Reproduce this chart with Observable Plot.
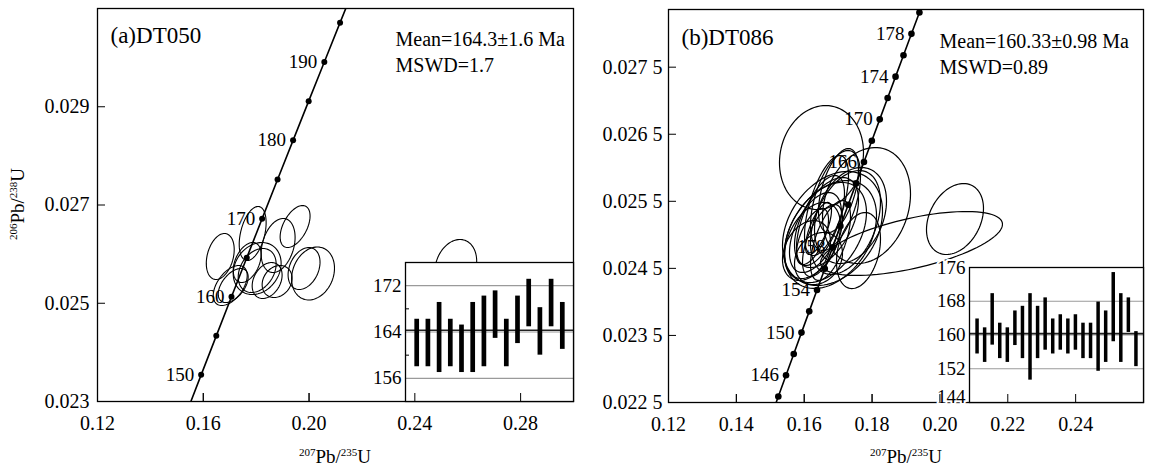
<!DOCTYPE html>
<html>
<head>
<meta charset="utf-8">
<script src="https://cdn.jsdelivr.net/npm/d3@7"></script>
<script src="https://cdn.jsdelivr.net/npm/@observablehq/plot@0.6"></script>
<style>
  body { margin: 0; background: white; }
  #wrap { position: relative; width: 1155px; height: 469px; font-family: "Liberation Serif", serif; color: black; }
  .layer { position: absolute; top: 0; }
  .layer svg, .layer svg text { font-family: "Liberation Serif", serif !important; }
  .title { position: absolute; font-family: "Liberation Serif", serif; font-size: 19px; white-space: nowrap; line-height: 1; }
  .title sup { font-size: 11px; vertical-align: 7px; line-height: 0; }
</style>
</head>
<body>
<div id="wrap"></div>
<script>
// ---------- data ----------
// Panel (a) DT050
const titleA = "(a)DT050";
const statA = "Mean=164.3±1.6 Ma\nMSWD=1.7";
const xTicksA = [0.12, 0.16, 0.20, 0.24, 0.28];
const yTicksA = [0.023, 0.025, 0.027, 0.029];
// concordia nodes (Ma) with 207Pb/235U and 206Pb/238U
const concA_age = [145, 150, 155, 160, 165, 170, 175, 180, 185, 190, 195, 200];
const concA_x = [0.153503, 0.159197, 0.164919, 0.170670, 0.176448, 0.182256, 0.188090, 0.193957, 0.199851, 0.205774, 0.211725, 0.217707];
const concA_y = [0.022748, 0.023542, 0.024336, 0.025131, 0.025926, 0.026722, 0.027519, 0.028316, 0.029114, 0.029912, 0.030712, 0.031511];
const concA_labels = [150, 160, 170, 180, 190];
// error ellipses: centre, half-extent in x and y, correlation
const ellA_x = [0.16642, 0.17868, 0.19472, 0.18830, 0.18038, 0.18038, 0.17019, 0.17132, 0.18415, 0.18792, 0.20151, 0.19811, 0.25547, 0.17660];
const ellA_y = [0.025952, 0.026420, 0.026562, 0.026176, 0.025707, 0.025667, 0.025361, 0.025361, 0.025463, 0.025443, 0.025606, 0.025707, 0.025748, 0.025830];
const ellA_sx = [0.00528, 0.00509, 0.00566, 0.00642, 0.00906, 0.00717, 0.00642, 0.00566, 0.00566, 0.00566, 0.00811, 0.00604, 0.00792, 0.00528];
const ellA_sy = [0.000468, 0.000550, 0.000427, 0.000550, 0.000529, 0.000448, 0.000407, 0.000346, 0.000366, 0.000326, 0.000539, 0.000427, 0.000550, 0.000407];
const ellA_rho = [0.3, 0.4, 0.5, 0.3, 0.2, 0.3, 0.5, 0.5, 0.3, 0.2, 0.2, 0.3, 0.2, 0.4];
// inset weighted mean ages
const insetA_ticks = [172, 164, 156];
const insetA_minor = [168, 160];
const meanA = 164.3;
const barsA_lo = [158, 158, 157, 158, 157, 157, 158, 162.9, 158, 162, 164.9, 160, 164.9, 161];
const barsA_hi = [166.2, 166.2, 169.1, 166.2, 165.2, 169.1, 170.2, 171.1, 166.2, 170.2, 173.1, 168.2, 173.1, 169.1];

// Panel (b) DT086
const titleB = "(b)DT086";
const statB = "Mean=160.33±0.98 Ma\nMSWD=0.89";
const xTicksB = [0.12, 0.14, 0.16, 0.18, 0.20, 0.22, 0.24];
const yTicksB = [0.0225, 0.0235, 0.0245, 0.0255, 0.0265, 0.0275];
const concB_age = [142, 144, 146, 148, 150, 152, 154, 156, 158, 160, 162, 164, 166, 168, 170, 172, 174, 176, 178, 180, 182];
const concB_x = [0.150100, 0.152367, 0.154639, 0.156916, 0.159197, 0.161482, 0.163773, 0.166067, 0.168366, 0.170670, 0.172978, 0.175291, 0.177608, 0.179930, 0.182256, 0.184587, 0.186923, 0.189263, 0.191608, 0.193957, 0.196311];
const concB_y = [0.022272, 0.022589, 0.022907, 0.023224, 0.023542, 0.023859, 0.024177, 0.024495, 0.024813, 0.025131, 0.025449, 0.025767, 0.026085, 0.026404, 0.026722, 0.027041, 0.027359, 0.027678, 0.027997, 0.028316, 0.028635];
const concB_labels = [146, 150, 154, 158, 166, 170, 174, 178];
const ellB_x = [0.16509, 0.17836, 0.16834, 0.16775, 0.16627, 0.16922, 0.16657, 0.16480, 0.16332, 0.16539, 0.16244, 0.17600, 0.16775, 0.16421, 0.16244, 0.16067, 0.17216, 0.16657, 0.16421, 0.19162, 0.20444, 0.17010, 0.17364];
const ellB_y = [0.026153, 0.025437, 0.025095, 0.025005, 0.025035, 0.025512, 0.025437, 0.025214, 0.025035, 0.024916, 0.024916, 0.024766, 0.024916, 0.025095, 0.024975, 0.024766, 0.025184, 0.025184, 0.024647, 0.024871, 0.025236, 0.025661, 0.025288];
const ellB_sx = [0.01238, 0.01297, 0.01474, 0.01356, 0.01208, 0.00737, 0.00648, 0.00707, 0.00766, 0.00589, 0.00825, 0.00648, 0.00589, 0.00383, 0.00472, 0.00707, 0.01032, 0.00943, 0.00707, 0.02682, 0.00840, 0.00589, 0.01061];
const ellB_sy = [0.000775, 0.000865, 0.000850, 0.000805, 0.000746, 0.000746, 0.000746, 0.000671, 0.000596, 0.000537, 0.000567, 0.000567, 0.000596, 0.000388, 0.000418, 0.000447, 0.000775, 0.000671, 0.000388, 0.000477, 0.000529, 0.000626, 0.000716];
const ellB_rho = [0.1, 0.2, 0.3, 0.35, 0.4, 0.5, 0.6, 0.6, 0.5, 0.6, 0.4, 0.3, 0.6, 0.7, 0.6, 0.3, 0.4, 0.5, 0.2, 0.6, 0.3, 0.5, 0.3];
const insetB_ticks = [176, 168, 160, 152, 144];
const insetB_grid = [168, 160, 152];
const meanB = 160.33;
const barsB_lo = [155.5, 153.5, 157.6, 154.4, 153.5, 157.5, 154.4, 149.3, 154.4, 156.4, 155.5, 156.4, 155.5, 156.4, 154.4, 154.4, 151.4, 153.5, 158.4, 153.5, 160.6, 152.5];
const barsB_hi = [163.8, 161.7, 169.8, 162.8, 161.7, 165.7, 166.8, 169.8, 166.8, 168.8, 163.8, 164.8, 163.8, 164.8, 162.8, 162.8, 167.8, 165.7, 174.8, 169.8, 168.8, 160.8];

const xTitle = "<sup>207</sup>Pb/<sup>235</sup>U";
const yTitle = "<sup>206</sup>Pb/<sup>238</sup>U";

// ---------- helpers ----------
const FONT = "Liberation Serif";
function ellipsePoints(xs, ys, sxs, sys, rhos) {
  const pts = [];
  xs.forEach((cx, i) => {
    const r = rhos[i], q = Math.sqrt(1 - r * r);
    for (let k = 0; k <= 90; k++) {
      const t = k * 2 * Math.PI / 90;
      pts.push({id: i, x: cx + sxs[i] * Math.cos(t), y: ys[i] + sys[i] * (r * Math.cos(t) + q * Math.sin(t))});
    }
  });
  return pts;
}
function concTable(ages, xs, ys) { return ages.map((a, i) => ({age: a, x: xs[i], y: ys[i]})); }
function barsTable(lo, hi) { return lo.map((l, i) => ({i: i + 1, lo: l, hi: hi[i]})); }
function place(svg, left) {
  const d = document.createElement("div");
  d.className = "layer";
  d.style.left = left + "px";
  d.appendChild(svg);
  document.getElementById("wrap").appendChild(d);
}
const STYLE = "background: transparent; font-family: 'Liberation Serif', serif; font-size: 20px; overflow: visible; color: black;";

function mainPanel(cfg) {
  const conc = concTable(cfg.age, cfg.cx, cfg.cy);
  const labels = conc.filter(d => cfg.labels.includes(d.age));
  const ell = ellipsePoints(cfg.ex, cfg.ey, cfg.esx, cfg.esy, cfg.erho);
  return Plot.plot({
    width: cfg.width, height: 469,
    marginLeft: cfg.ml, marginRight: cfg.mr, marginTop: cfg.mt, marginBottom: cfg.mb,
    x: {domain: cfg.xdom, label: null},
    y: {domain: cfg.ydom, label: null},
    style: STYLE,
    marks: [
      Plot.axisX({ticks: cfg.xticks, tickSize: -8, tickPadding: 22, tickFormat: d => d.toFixed(2), fontSize: 20, fontFamily: FONT}),
      Plot.axisY({ticks: cfg.yticks, tickSize: -8, tickPadding: cfg.ypad, tickFormat: cfg.yfmt, fontSize: 20, fontFamily: FONT}),
      Plot.text(labels, {x: "x", y: "y", text: d => String(d.age), textAnchor: "end", lineAnchor: "middle", dx: -7, fontSize: 19, fontFamily: FONT}),
      Plot.line(ell, {x: "x", y: "y", z: "id", stroke: "black", strokeWidth: cfg.ew, clip: true}),
      Plot.line(conc, {x: "x", y: "y", stroke: "black", strokeWidth: 1.6, clip: true}),
      Plot.dot(conc, {x: "x", y: "y", r: cfg.dotr, fill: "black", stroke: "none", clip: true}),
      Plot.text([cfg.title], {text: d => d, frameAnchor: "top-left", textAnchor: "start", lineAnchor: "top", dx: 13, dy: cfg.tdy, fontSize: 23, fontFamily: FONT}),
      Plot.text([cfg.stat], {text: d => d, frameAnchor: "top-left", textAnchor: "start", lineAnchor: "top", dx: cfg.sdx, dy: cfg.sdy, fontSize: 20, lineHeight: 1.3, fontFamily: FONT}),
      Plot.frame({stroke: "black", strokeWidth: 1.3})
    ]
  });
}

function insetPanel(cfg) {
  const bars = barsTable(cfg.lo, cfg.hi);
  const marks = [
    Plot.frame({fill: "white", stroke: "none"}),
    Plot.ruleY(cfg.grid, {stroke: "#9a9a9a", strokeWidth: 1.2}),
    Plot.ruleY([cfg.mean], {stroke: "#222", strokeWidth: 1.6}),
    Plot.ruleX(bars, {x: "i", y1: "lo", y2: "hi", stroke: "black", strokeWidth: cfg.bw}),
    Plot.text(cfg.ticks.filter(t => !cfg.shiftUp.includes(t)), {frameAnchor: "left", y: d => d, text: d => String(d), textAnchor: "end", lineAnchor: "middle", dx: -4, fill: "black", stroke: "white", strokeWidth: 4, fontSize: 19, fontFamily: FONT}),
    Plot.text(cfg.shiftUp, {frameAnchor: "left", y: d => d, text: d => String(d), textAnchor: "end", lineAnchor: "bottom", dx: -4, dy: 0, fill: "black", stroke: "white", strokeWidth: 4, fontSize: 19, fontFamily: FONT}),
    Plot.frame({stroke: "black", strokeWidth: 1.3})
  ];
  if (cfg.minor.length) marks.splice(4, 0, Plot.axisY({ticks: cfg.minor, tickSize: -4, tickFormat: () => ""}));
  return Plot.plot({
    width: cfg.width, height: 469,
    marginLeft: cfg.ml, marginRight: cfg.mr, marginTop: cfg.mt, marginBottom: cfg.mb,
    x: {domain: [0, cfg.lo.length + 1], axis: null},
    y: {domain: cfg.ydom, axis: null},
    style: STYLE,
    marks
  });
}

function tickOverlay(cfg) {
  return Plot.plot({
    width: cfg.width, height: 469,
    marginLeft: cfg.ml, marginRight: cfg.mr, marginTop: cfg.mt, marginBottom: cfg.mb,
    x: {domain: cfg.xdom, label: null},
    y: {domain: cfg.ydom, axis: null},
    style: STYLE,
    marks: [Plot.axisX({ticks: cfg.xticks, tickSize: -8, tickFormat: () => ""})]
  });
}

const fmtB = d => { const s = d.toFixed(4); return s.slice(0, -1) + " " + s.slice(-1); };

const cfgA = {
  width: 580, ml: 97, mr: 7, mt: 8, mb: 68,
  xdom: [0.12, 0.30], ydom: [0.023, 0.031],
  xticks: xTicksA, yticks: yTicksA, ypad: 16, yfmt: d => d.toFixed(3),
  age: concA_age, cx: concA_x, cy: concA_y, labels: concA_labels,
  ex: ellA_x, ey: ellA_y, esx: ellA_sx, esy: ellA_sy, erho: ellA_rho, ew: 1.1, dotr: 3,
  title: titleA, tdy: 18, stat: statA, sdx: 298, sdy: 19
};
const cfgB = {
  width: 575, ml: 88, mr: 12, mt: 9, mb: 67,
  xdom: [0.12, 0.26], ydom: [0.0225, 0.02836],
  xticks: xTicksB, yticks: yTicksB, ypad: 14, yfmt: fmtB,
  age: concB_age, cx: concB_x, cy: concB_y, labels: concB_labels,
  ex: ellB_x, ey: ellB_y, esx: ellB_sx, esy: ellB_sy, erho: ellB_rho, ew: 1.2, dotr: 3.3,
  title: titleB, tdy: 19.5, stat: statB, sdx: 271, sdy: 20.5
};

place(mainPanel(cfgA), 0);
place(insetPanel({width: 580, ml: 405, mr: 7, mt: 262, mb: 68, ydom: [152, 176],
  lo: barsA_lo, hi: barsA_hi, grid: insetA_ticks, mean: meanA, ticks: insetA_ticks, minor: insetA_minor, shiftUp: [], bw: 4.7}), 0);
place(tickOverlay(cfgA), 0);

place(mainPanel(cfgB), 580);
place(insetPanel({width: 575, ml: 389, mr: 12, mt: 267, mb: 67, ydom: [144, 176],
  lo: barsB_lo, hi: barsB_hi, grid: insetB_grid, mean: meanB, ticks: insetB_ticks, minor: [], shiftUp: [144], bw: 3.5}), 580);
place(tickOverlay(cfgB), 580);

// axis titles
function addTitle(html, left, top, rotate) {
  const d = document.createElement("div");
  d.className = "title";
  d.innerHTML = html;
  d.style.left = left + "px";
  d.style.top = top + "px";
  d.style.transform = "translate(-50%, -50%)" + (rotate ? " rotate(-90deg)" : "");
  document.getElementById("wrap").appendChild(d);
}
addTitle(yTitle, 17, 204, true);
addTitle(xTitle, 335, 456, false);
addTitle(xTitle, 906, 456, false);
</script>
</body>
</html>
